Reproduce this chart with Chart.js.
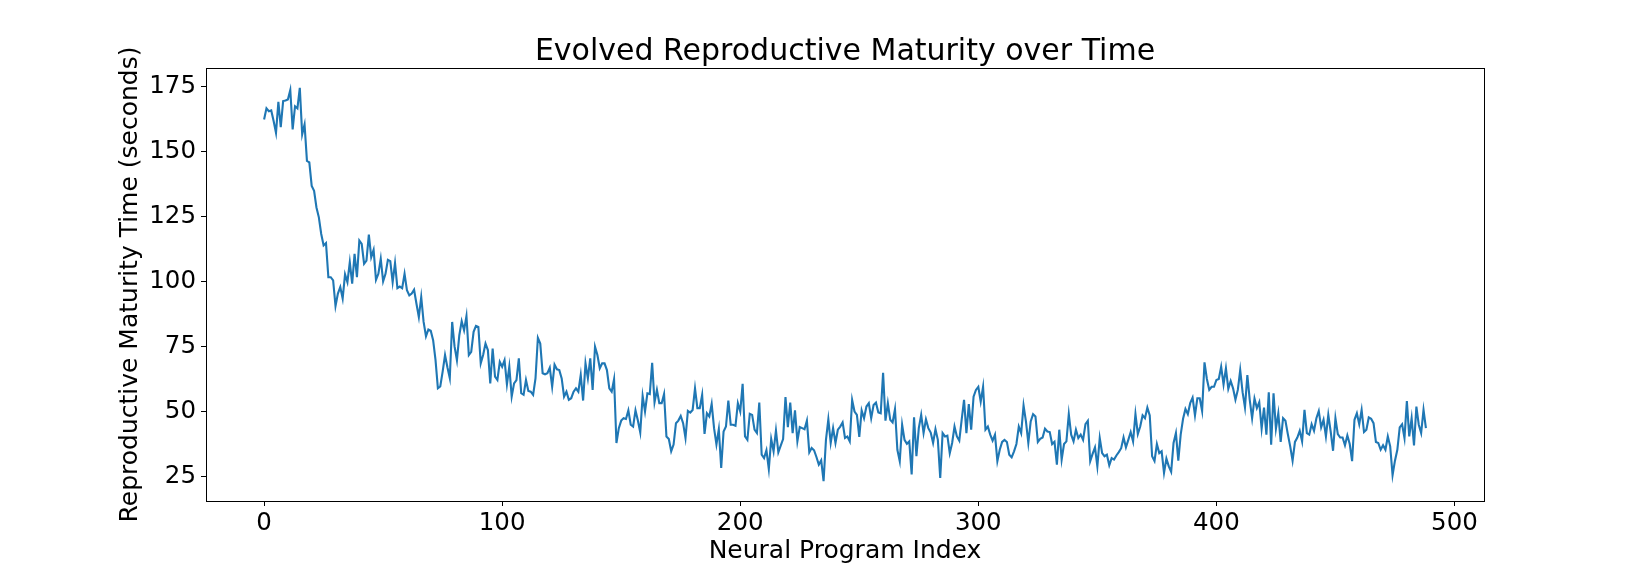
<!DOCTYPE html>
<html><head><meta charset="utf-8">
<script src="https://cdn.jsdelivr.net/npm/chart.js@4.4.1/dist/chart.umd.min.js"></script>
<style>html,body{margin:0;padding:0;background:#fff;} canvas{display:block;}</style>
</head><body>
<canvas id="c" width="1648" height="563"></canvas>
<script>
const titleText = "Evolved Reproductive Maturity over Time";
const xLabel = "Neural Program Index";
const yLabel = "Reproductive Maturity Time (seconds)";
const xTicks = [0, 100, 200, 300, 400, 500];
const yTicks = [25, 50, 75, 100, 125, 150, 175];
const xRange = [-24.4, 512.4];
const yRange = [15.6, 182.0];

const maturity = [
162.2,166.5,165.4,165.7,161.6,157.1,169.0,159.3,169.3,169.5,
169.9,173.5,158.4,167.3,166.5,174.4,156.5,160.3,146.3,145.7,
136.7,134.8,128.4,124.6,118.2,113.8,114.7,101.6,101.6,100.4,
90.5,95.3,97.8,93.4,102.7,99.7,107.4,99.1,110.6,101.6,
115.7,114.4,106.8,108.0,118.0,109.3,112.1,100.6,102.9,108.7,
100.0,102.9,108.3,107.8,99.7,107.0,97.4,98.0,97.4,102.9,
96.6,94.6,95.3,96.8,91.4,86.3,94.0,84.4,78.9,81.5,
81.0,77.4,69.8,58.9,59.6,65.3,71.7,67.0,62.8,84.4,
75.0,69.7,79.3,84.7,81.2,86.7,71.7,72.9,80.6,82.9,
82.5,68.5,71.7,76.1,73.6,60.8,74.2,63.4,62.1,69.1,
67.2,69.7,60.4,67.2,55.7,60.8,62.1,70.4,57.0,56.4,
62.1,57.9,57.6,56.4,62.7,78.3,76.1,64.7,64.3,64.7,
66.8,59.5,68.0,66.2,65.9,62.7,55.7,57.6,54.5,55.1,
57.6,58.9,57.6,64.0,54.2,68.5,62.7,70.4,58.3,74.9,
71.7,66.6,68.5,68.5,65.9,58.9,57.6,62.4,37.9,43.6,
46.5,47.4,47.1,50.4,44.9,44.2,50.4,46.5,41.9,56.0,
50.0,57.0,56.7,68.7,53.5,58.3,53.2,53.2,56.7,40.4,
39.4,34.7,37.3,45.5,46.5,48.3,45.5,39.8,50.2,49.6,
50.6,58.9,51.3,51.3,56.4,41.4,49.3,48.1,52.9,43.6,
37.3,43.2,28.3,42.3,44.2,54.2,44.9,44.9,44.5,53.2,
50.0,60.6,40.4,39.1,49.1,48.7,43.0,41.7,53.4,33.4,
32.1,35.1,27.9,39.4,34.7,42.7,34.3,36.9,39.4,55.5,
44.0,53.4,41.7,50.4,38.5,44.0,43.6,43.2,46.5,34.3,
36.0,35.1,32.5,29.6,31.2,23.2,39.1,47.0,37.9,43.6,
37.9,43.0,44.2,45.8,39.8,40.4,38.5,54.4,50.0,48.7,
40.2,50.4,47.4,51.9,53.2,47.4,52.5,53.4,49.6,49.3,
64.9,46.5,53.2,46.8,45.8,50.9,35.3,30.9,44.9,39.1,
37.6,38.5,25.8,47.8,32.8,43.6,48.7,41.7,47.0,43.6,
41.9,37.9,43.2,39.1,24.5,41.7,40.4,40.7,34.0,37.9,
44.2,40.4,38.8,46.8,54.5,41.7,52.8,43.0,55.7,58.3,
59.5,53.8,59.5,43.0,44.2,41.1,38.8,41.1,30.9,35.3,
38.3,39.1,38.3,33.4,32.4,34.7,37.5,44.2,41.7,52.3,
46.2,37.9,46.2,49.0,48.1,38.3,39.5,40.0,43.4,42.3,
42.1,37.5,38.4,29.6,43.0,31.5,37.5,38.5,49.0,41.1,
38.5,43.0,39.8,41.1,39.1,45.1,46.4,30.9,33.7,36.2,
28.9,39.8,34.0,32.8,33.4,29.3,32.1,31.5,33.1,34.4,
35.9,40.0,36.2,39.1,42.1,38.5,49.0,41.3,44.2,48.5,
47.4,51.5,48.5,32.8,31.0,37.5,34.0,34.7,26.4,31.9,
28.9,26.8,37.9,41.7,31.1,41.1,47.2,51.0,49.0,53.2,
55.3,48.5,55.1,55.1,50.2,68.9,62.5,58.3,59.5,59.5,
62.1,62.5,67.2,60.4,66.6,58.7,61.7,58.9,54.5,58.3,
65.9,57.4,51.5,64.0,54.5,47.4,55.0,51.3,53.6,43.4,
51.5,41.1,57.4,37.2,57.0,43.4,49.3,38.3,47.4,46.4,
41.3,36.6,31.1,38.3,40.0,42.6,38.5,50.6,41.7,41.1,
45.1,42.6,47.4,50.2,43.9,46.8,40.4,48.7,42.3,34.9,
47.4,41.3,40.0,40.0,37.0,40.8,37.5,30.9,46.8,49.3,
45.1,50.6,42.1,43.0,47.7,47.2,45.5,38.3,37.9,35.3,
37.0,35.3,40.4,36.6,25.5,31.1,35.3,43.9,45.1,39.8,
54.0,40.4,47.4,37.0,51.9,44.9,41.7,50.6,43.6
];
const programIndex = maturity.map((_, i) => i);
const points = programIndex.map((x, i) => ({ x: x, y: maturity[i] }));

Chart.defaults.font.family = "'DejaVu Sans', sans-serif";
Chart.defaults.color = '#000';

const framePlugin = {
  id: 'frame',
  afterDraw(chart) {
    const { ctx, chartArea: a } = chart;
    ctx.save();
    ctx.strokeStyle = '#000';
    ctx.lineWidth = 1;
    ctx.strokeRect(Math.round(a.left) + 0.5, Math.round(a.top) + 0.5,
                   Math.round(a.right - a.left), Math.round(a.bottom - a.top));
    ctx.restore();
  }
};

new Chart(document.getElementById('c'), {
  type: 'line',
  data: {
    datasets: [{
      data: points,
      borderColor: '#1f77b4',
      borderWidth: 2.1,
      pointRadius: 0,
      tension: 0,
      fill: false
    }]
  },
  options: {
    responsive: false,
    animation: false,
    devicePixelRatio: 1,
    layout: { padding: { left: 0, right: 164, top: 0, bottom: 0 } },
    plugins: {
      legend: { display: false },
      tooltip: { enabled: false },
      title: {
        display: true,
        text: titleText,
        fullSize: false,
        color: '#000',
        font: { size: 30, weight: 'normal' },
        padding: { top: 34.6, bottom: -2.6 }
      }
    },
    scales: {
      x: {
        type: 'linear',
        min: xRange[0],
        max: xRange[1],
        afterBuildTicks: s => { s.ticks = xTicks.map(v => ({ value: v })); },
        afterFit: s => { s.height = 62; },
        ticks: { font: { size: 24.5 }, color: '#000', padding: 3, maxRotation: 0, autoSkip: false },
        grid: { display: true, drawOnChartArea: false, drawTicks: true, tickLength: 5, tickColor: '#000', tickWidth: 1 },
        border: { display: true, color: '#000', width: 1 },
        title: { display: true, text: xLabel, color: '#000', font: { size: 25 }, padding: { top: 0, bottom: -3 } }
      },
      y: {
        type: 'linear',
        min: yRange[0],
        max: yRange[1],
        afterBuildTicks: s => { s.ticks = yTicks.map(v => ({ value: v })); },
        afterFit: s => { s.width = 206; },
        ticks: { font: { size: 24.5 }, color: '#000', padding: 5, autoSkip: false },
        grid: { display: true, drawOnChartArea: false, drawTicks: true, tickLength: 5, tickColor: '#000', tickWidth: 1 },
        border: { display: true, color: '#000', width: 1 },
        title: { display: true, text: yLabel, color: '#000', font: { size: 25 }, padding: { top: 115, bottom: 0 } }
      }
    }
  },
  plugins: [framePlugin]
});
</script>
</body></html>
